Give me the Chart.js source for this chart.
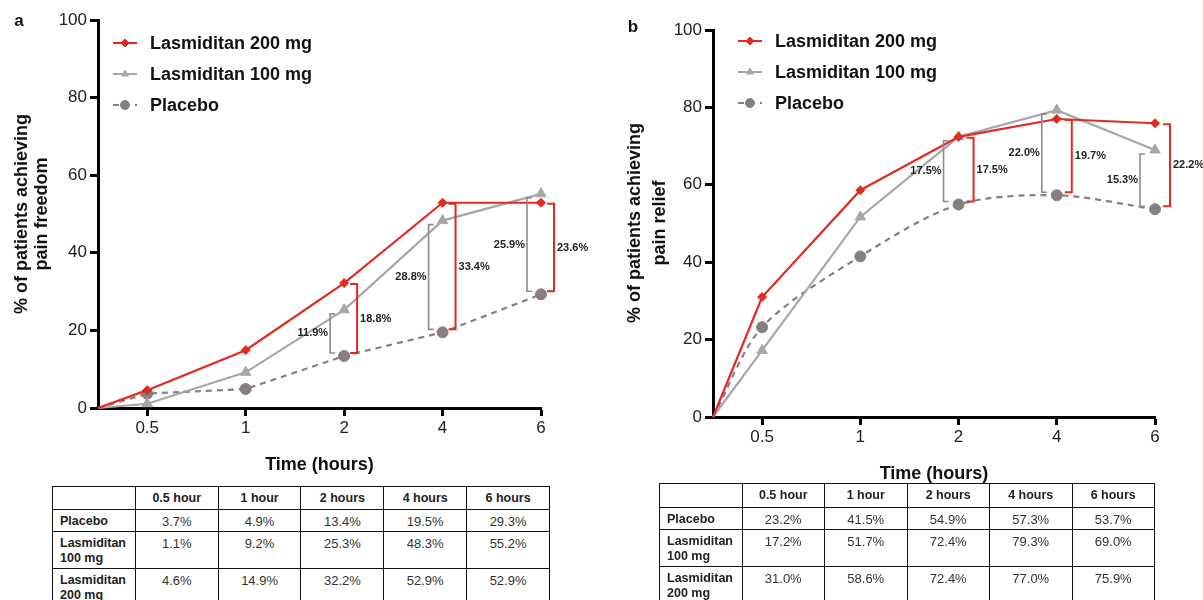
<!DOCTYPE html>
<html><head><meta charset="utf-8">
<script src="https://cdn.jsdelivr.net/npm/chart.js@4.4.0/dist/chart.umd.min.js"></script>
<style>
html,body{margin:0;padding:0;background:#fff;width:1203px;height:600px;overflow:hidden;font-family:'Liberation Sans',Arial,sans-serif;}
#ca{position:absolute;left:0;top:0;}
#cb{position:absolute;left:600px;top:0;}
table{position:absolute;border-collapse:collapse;table-layout:fixed;color:#222;}
td,th{border:1px solid #111;padding:0;line-height:15px;}
th{font-weight:bold;font-size:12.5px;text-align:center;vertical-align:middle;}
td{font-size:13px;text-align:center;vertical-align:top;padding-top:4px;color:#333;}
td.rl{font-weight:bold;font-size:12.5px;text-align:left;padding-left:7px;color:#222;}
</style></head>
<body>
<canvas id="ca" width="600" height="480"></canvas>
<canvas id="cb" width="603" height="490"></canvas>
<table id="ta" style="left:52px;top:486px;width:498px"></table>
<table id="tb" style="left:659px;top:483px;width:496px"></table>
<script>
// ---- data ----
const timeCategories = ['0.5', '1', '2', '4', '6'];
const tableHeaders = ['0.5 hour', '1 hour', '2 hours', '4 hours', '6 hours'];
const seriesNames = ['Lasmiditan 200 mg', 'Lasmiditan 100 mg', 'Placebo'];
const tableRowNames = ['Placebo', 'Lasmiditan<br>100 mg', 'Lasmiditan<br>200 mg'];
const yTicks = [0, 20, 40, 60, 80, 100];
const startValue = 0;

const freedomPlacebo = [3.7, 4.9, 13.4, 19.5, 29.3];
const freedom100 = [1.1, 9.2, 25.3, 48.3, 55.2];
const freedom200 = [4.6, 14.9, 32.2, 52.9, 52.9];

const reliefPlacebo = [23.2, 41.5, 54.9, 57.3, 53.7];
const relief100 = [17.2, 51.7, 72.4, 79.3, 69.0];
const relief200 = [31.0, 58.6, 72.4, 77.0, 75.9];

const bracketCategories = ['2', '4', '6'];
const freedomDiff100 = ['11.9%', '28.8%', '25.9%'];
const freedomDiff200 = ['18.8%', '33.4%', '23.6%'];
const reliefDiff100 = ['17.5%', '22.0%', '15.3%'];
const reliefDiff200 = ['17.5%', '19.7%', '22.2%'];

// ---- styles ----
const RED = '#e12a22';
const GRAY = '#a7a7a7';
const PLAC = '#877e82';
const BR_GRAY = '#8c8c8c';
const FONT = "'Liberation Sans', Arial, sans-serif";

function pts(vals) {
  return [{x: 0.5, y: startValue}].concat(vals.map((v, i) => ({x: i + 1, y: v})));
}
function rad(r) { return ctx => ctx.dataIndex === 0 ? 0 : r; }

function makeDatasets(v200, v100, vP, curved) {
  return [
    {label: seriesNames[0], data: pts(v200), borderColor: RED, backgroundColor: RED,
     pointBackgroundColor: RED, pointBorderColor: RED, pointStyle: 'rectRot',
     pointRadius: rad(4.5), pointBorderWidth: 1, borderWidth: 2.2, tension: 0, clip: false},
    {label: seriesNames[1], data: pts(v100), borderColor: GRAY, backgroundColor: GRAY,
     pointBackgroundColor: GRAY, pointBorderColor: GRAY, pointStyle: 'triangle',
     pointRadius: rad(6), pointBorderWidth: 1, borderWidth: 2.2, tension: 0, clip: false},
    {label: seriesNames[2], data: pts(vP), borderColor: PLAC, backgroundColor: PLAC,
     pointBackgroundColor: PLAC, pointBorderColor: PLAC, pointStyle: 'circle',
     pointRadius: rad(5.5), pointBorderWidth: 1, borderWidth: 2.2, borderDash: [6, 5],
     tension: curved ? 0.3 : 0, clip: false}
  ];
}

function makeDecor(cfg) {
  return {
    id: 'decor' + cfg.letter,
    afterDatasetsDraw(chart) {
      const ctx = chart.ctx, xs = chart.scales.x, ys = chart.scales.y;
      cfg.brackets.forEach(b => {
        bracketCategories.forEach((cat, k) => {
          const i = timeCategories.indexOf(cat);
          const xp = xs.getPixelForValue(i + 1) + b.dx;
          const yt = ys.getPixelForValue(b.top[i]) + b.inset;
          const yb = ys.getPixelForValue(b.base[i]) - 3;
          ctx.save();
          ctx.strokeStyle = b.color; ctx.lineWidth = b.width;
          ctx.beginPath();
          ctx.moveTo(xp + b.tick, yt); ctx.lineTo(xp, yt); ctx.lineTo(xp, yb); ctx.lineTo(xp + b.tick, yb);
          ctx.stroke();
          ctx.fillStyle = '#222'; ctx.font = 'bold 11px ' + FONT; ctx.textBaseline = 'middle';
          ctx.textAlign = b.dx < 0 ? 'right' : 'left';
          ctx.fillText(b.labels[k], xp + (b.dx < 0 ? -2 : 3), (yt + yb) / 2);
          ctx.restore();
        });
      });
    },
    afterDraw(chart) {
      const ctx = chart.ctx, ca = chart.chartArea;
      // legend
      chart.data.datasets.forEach((ds, i) => {
        const y = cfg.legY + i * 31, x0 = cfg.legX;
        ctx.save();
        ctx.strokeStyle = ds.borderColor; ctx.lineWidth = 2;
        ctx.setLineDash(ds.borderDash || []);
        ctx.beginPath(); ctx.moveTo(x0, y); ctx.lineTo(x0 + 24, y); ctx.stroke();
        ctx.setLineDash([]);
        ctx.fillStyle = ds.pointBackgroundColor; ctx.strokeStyle = ds.pointBorderColor; ctx.lineWidth = 1;
        Chart.helpers.drawPoint(ctx, {pointStyle: ds.pointStyle, radius: ds.pointStyle === 'circle' ? 4.5 : 4, borderWidth: 1, rotation: 0}, x0 + 12, y);
        ctx.fillStyle = '#111'; ctx.font = 'bold 18px ' + FONT; ctx.textBaseline = 'middle'; ctx.textAlign = 'left';
        ctx.fillText(ds.label, x0 + 37, y + 1);
        ctx.restore();
      });
      // y title
      ctx.save();
      ctx.fillStyle = '#111'; ctx.font = 'bold 18px ' + FONT; ctx.textAlign = 'center'; ctx.textBaseline = 'middle';
      cfg.yTitle.forEach((t, k) => {
        ctx.save();
        ctx.translate(cfg.yTitleX[k], cfg.yTitleY);
        ctx.rotate(-Math.PI / 2);
        ctx.fillText(t, 0, 0);
        ctx.restore();
      });
      // x title
      ctx.fillText(cfg.xTitle, (ca.left + ca.right) / 2, cfg.xTitleY);
      // panel letter
      ctx.font = 'bold 17px ' + FONT;
      ctx.fillText(cfg.letter, cfg.letterX, cfg.letterY);
      ctx.restore();
    }
  };
}

function makeChart(id, datasets, pad, deco) {
  const axisCommon = {
    grid: {drawOnChartArea: false, drawTicks: true, tickLength: 8, tickWidth: 3, tickColor: '#000'},
    border: {color: '#000', width: 3}
  };
  return new Chart(document.getElementById(id), {
    type: 'line',
    data: {datasets},
    options: {
      responsive: false, animation: false, events: [],
      layout: {padding: pad},
      plugins: {legend: {display: false}, tooltip: {enabled: false}},
      scales: {
        x: Object.assign({
          type: 'linear', min: 0.5, max: 5,
          afterBuildTicks: s => { s.ticks = timeCategories.map((c, i) => ({value: i + 1})); },
          afterFit: s => { s.height = 40; },
          ticks: {callback: v => timeCategories[v - 1] ?? '', font: {size: 17, family: FONT}, color: '#222',
                  padding: 2, maxRotation: 0, autoSkip: false}
        }, axisCommon),
        y: Object.assign({
          type: 'linear', min: 0, max: 100,
          afterBuildTicks: s => { s.ticks = yTicks.map(v => ({value: v})); },
          afterFit: s => { s.width = 60; },
          ticks: {font: {size: 17, family: FONT}, color: '#222', padding: 3}
        }, axisCommon)
      }
    },
    plugins: [deco]
  });
}

makeChart('ca', makeDatasets(freedom200, freedom100, freedomPlacebo, false),
  {left: 38, top: 20, right: 59, bottom: 32},
  makeDecor({
    letter: 'a', letterX: 19, letterY: 21,
    legX: 113, legY: 43,
    yTitle: ['% of patients achieving', 'pain freedom'], yTitleX: [22, 42], yTitleY: 214,
    xTitle: 'Time (hours)', xTitleY: 465,
    brackets: [
      {top: freedom100, base: freedomPlacebo, labels: freedomDiff100, dx: -14, tick: 5, inset: 4, color: BR_GRAY, width: 1.6},
      {top: freedom200, base: freedomPlacebo, labels: freedomDiff200, dx: 13, tick: -7, inset: 1, color: RED, width: 2}
    ]
  }));

makeChart('cb', makeDatasets(relief200, relief100, reliefPlacebo, true),
  {left: 53, top: 30, right: 48, bottom: 33},
  makeDecor({
    letter: 'b', letterX: 33, letterY: 27,
    legX: 138, legY: 41,
    yTitle: ['% of patients achieving', 'pain relief'], yTitleX: [35, 60], yTitleY: 223,
    xTitle: 'Time (hours)', xTitleY: 474,
    brackets: [
      {top: relief100, base: reliefPlacebo, labels: reliefDiff100, dx: -15, tick: 5, inset: 4, color: BR_GRAY, width: 1.6},
      {top: relief200, base: reliefPlacebo, labels: reliefDiff200, dx: 15, tick: -7, inset: 1, color: RED, width: 2}
    ]
  }));

// ---- tables ----
function buildTable(id, placebo, v100, v200, heights) {
  const rows = [placebo, v100, v200];
  let html = '<tr style="height:' + heights[0] + 'px"><th></th>' + tableHeaders.map(h => '<th>' + h + '</th>').join('') + '</tr>';
  rows.forEach((r, k) => {
    html += '<tr style="height:' + heights[k + 1] + 'px"><td class="rl">' + tableRowNames[k] + '</td>' +
      r.map(v => '<td>' + v.toFixed(1) + '%</td>').join('') + '</tr>';
  });
  document.getElementById(id).innerHTML = html;
}
buildTable('ta', freedomPlacebo, freedom100, freedom200, [23, 22, 37, 37]);
buildTable('tb', reliefPlacebo, relief100, relief200, [24, 22, 37, 37]);
</script>
</body></html>
